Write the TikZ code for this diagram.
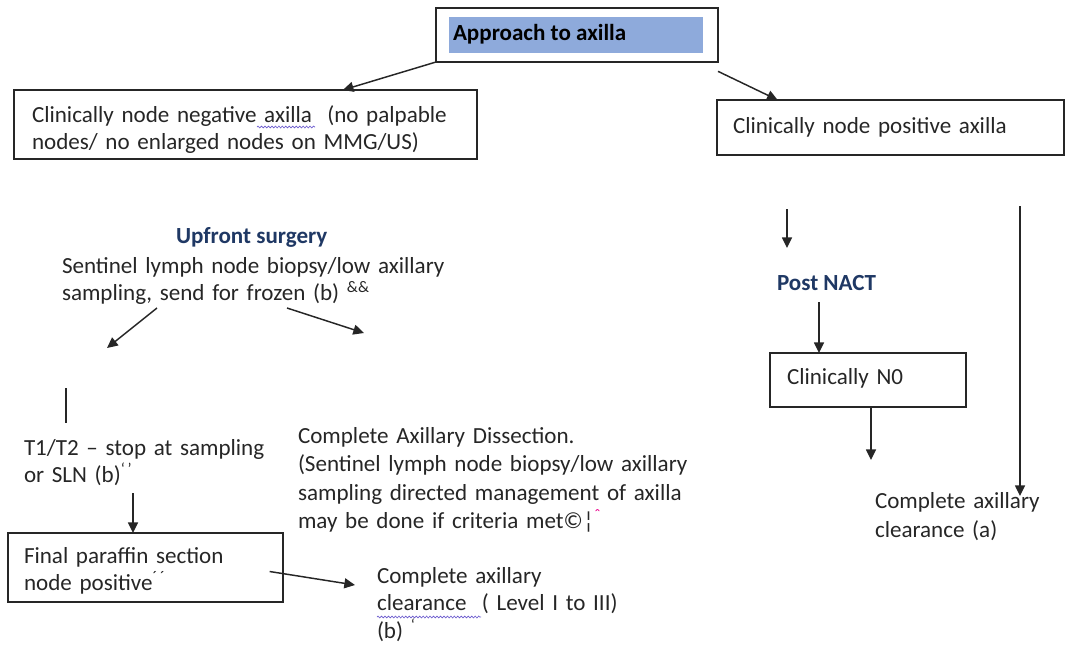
\documentclass[tikz,border=0pt]{standalone}
\usepackage{fontspec}
\setmainfont{Carlito}
\usetikzlibrary{arrows.meta,fit,decorations.pathmorphing}
\definecolor{headblue}{HTML}{1F3864}
\definecolor{hilite}{HTML}{8EAADB}
\definecolor{spell}{HTML}{6A5ACD}
\definecolor{ink}{HTML}{262626}
\begin{document}
\begin{tikzpicture}[x=0.75pt,y=-0.75pt,
  every node/.style={inner sep=0pt, outer sep=0pt},
  txt/.style={anchor=base west, align=left, text width=330pt, font=\fontsize{17.3}{20.8}\selectfont, text=ink},
  head/.style={anchor=base west, font=\fontsize{17.3}{20.8}\selectfont\bfseries, text=headblue},
  box/.style={draw=ink, line width=1pt},
  arr/.style={draw=ink, line width=1.1pt, -{Triangle[length=8pt,width=7.5pt]}},
  plain/.style={draw=ink, line width=1.1pt},
  wavy/.style={draw=spell, line width=0.5pt, decorate, decoration={snake, amplitude=0.7pt, segment length=2.6pt}}
]
\useasboundingbox (0,0) rectangle (1065,647);

% top
\node[box, fit={(436,8) (718,62)}] (top) {};
\node[fill=hilite, anchor=north west, minimum width=190.5pt, minimum height=27pt] (hl) at (449,17) {};
\node[anchor=base west, font=\fontsize{17.3}{20.8}\selectfont\bfseries, text=black] (topT) at (453,40) {Approach to axilla};

% node negative
\node[box, fit={(14,90) (477,159)}] (neg) {};
\node[txt] (negT) at (32,122) {Clinically node negative axilla\ \ (no palpable\\nodes/ no enlarged nodes on MMG/US)};
\draw[wavy] (257,127) -- (315,127);

% node positive
\node[box, fit={(717,100) (1064,155)}] (pos) {};
\node[txt] (posT) at (733,133) {Clinically node positive axilla};

\draw[arr] (top.south west) -- ([xshift=73pt]neg.north);
\draw[arr] ([yshift=-7pt]top.south east) -- ([xshift=45.5pt]pos.north west);

% upfront surgery branch
\node[head] (up) at (176,243) {Upfront surgery};
\node[txt] (slnb) at (62,273) {Sentinel lymph node biopsy/low axillary\\sampling, send for frozen (b) \textsuperscript{\&\&}};
\coordinate (s1) at (157,308);
\coordinate (e1) at (107,348);
\coordinate (s2) at (287,308);
\coordinate (e2) at (364,333);
\draw[arr] (s1) -- (e1);
\draw[arr] (s2) -- (e2);

\coordinate (v1) at (66,388);
\coordinate (v2) at (66,423);
\draw[plain] (v1) -- (v2);

\node[txt] (t1) at (24,455) {T1/T2 – stop at sampling\\or SLN (b)\textsuperscript{`\,’}};
\node[box, fit={(8,533) (283,602)}] (fin) {};
\node[txt] (finT) at (24,563) {Final paraffin section\\node positive\textsuperscript{´\,´}};
\coordinate (t1b) at (133,493);
\draw[arr] (t1b) -- (t1b |- fin.north);

\node[txt, font=\fontsize{17.3}{21.4}\selectfont] (cad) at (298,443) {Complete Axillary Dissection.\\(Sentinel lymph node biopsy/low axillary\\sampling directed management of axilla\\may be done if criteria met©¦\textsuperscript{\color{magenta}ˆ}};

\node[txt] (cax) at (377,583) {Complete axillary\\clearance\ \ ( Level I to III)\\(b) \textsuperscript{`}};
\draw[wavy] (377,617) -- (481,617);
\coordinate (e3) at (355,585);
\draw[arr] ([xshift=-10pt,yshift=-3pt]fin.east) -- (e3);

% right branch
\coordinate (r1) at (787,209);
\coordinate (r2) at (787,248);
\draw[arr] (r1) -- (r2);
\node[head] (post) at (777,290) {Post NACT};
\node[box, fit={(770,353) (966,407)}] (n0) {};
\node[txt] (n0T) at (787,384) {Clinically N0};
\coordinate (r3) at (819,302);
\draw[arr] (r3) -- (r3 |- n0.north);
\coordinate (r4) at (871,460);
\draw[arr] (n0.south -| r4) -- (r4);

\node[txt, font=\fontsize{17.3}{22}\selectfont] (cal) at (875,508) {Complete axillary\\clearance (a)};
\coordinate (r5) at (1020,206);
\coordinate (r6) at (1020,496);
\draw[arr] (r5) -- (r6);
\end{tikzpicture}
\end{document}
